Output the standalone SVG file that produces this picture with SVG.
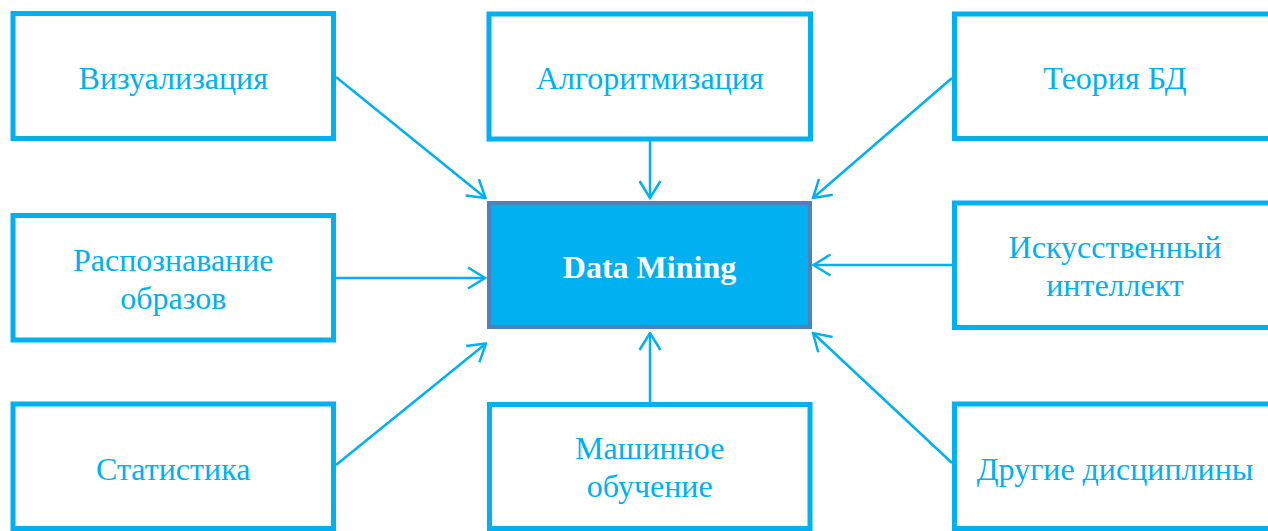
<svg xmlns="http://www.w3.org/2000/svg" width="1268" height="531" viewBox="0 0 1268 531">
  <style>
    .box { fill: #FFFFFF; stroke: #00B0F0; stroke-width: 5; }
    .core { fill: #00B0F0; stroke: #4F81BD; stroke-width: 4; }
    .lbl { font-family: "Liberation Serif", "Times New Roman", serif; font-size: 32px; fill: #00B0F0; text-anchor: middle; }
    .core-lbl { font-family: "Liberation Serif", "Times New Roman", serif; font-size: 32px; font-weight: bold; fill: #FFFFFF; text-anchor: middle; }
    .conn { fill: none; stroke: #00B0F0; stroke-width: 2.5; marker-end: url(#arrow); }
  </style>
  <defs>
    <marker id="arrow" markerUnits="userSpaceOnUse" viewBox="0 0 20 24" refX="18.5" refY="12" markerWidth="20" markerHeight="24" orient="auto">
      <path d="M1.5,1.5 L18.5,12 L1.5,22.5" fill="none" stroke="#00B0F0" stroke-width="2.5"/>
    </marker>
  </defs>
  <rect width="1268" height="531" fill="#FFFFFF"/>

  <g id="connectors">
    <line class="conn" x1="336" y1="77" x2="485.5" y2="198"/>
    <line class="conn" x1="650" y1="141" x2="650" y2="198"/>
    <line class="conn" x1="952" y1="78" x2="813" y2="198"/>
    <line class="conn" x1="336" y1="278" x2="485" y2="278"/>
    <line class="conn" x1="952" y1="265" x2="813.5" y2="265"/>
    <line class="conn" x1="336" y1="465" x2="486" y2="343.5"/>
    <line class="conn" x1="650" y1="402" x2="650" y2="333"/>
    <line class="conn" x1="952" y1="463" x2="813" y2="333"/>
  </g>

  <g id="node-core">
    <rect class="core" x="489" y="203" width="321" height="124"/>
    <text class="core-lbl" x="649.5" y="278">Data Mining</text>
  </g>

  <g id="node-vizualizatsiya">
    <rect class="box" x="13" y="13.5" width="320.5" height="125"/>
    <text class="lbl" x="173.25" y="89">Визуализация</text>
  </g>

  <g id="node-algoritmizatsiya">
    <rect class="box" x="489" y="14" width="321.5" height="125"/>
    <text class="lbl" x="649.75" y="89">Алгоритмизация</text>
  </g>

  <g id="node-teoriya-bd">
    <rect class="box" x="954.5" y="14" width="320.5" height="124.5"/>
    <text class="lbl" x="1115" y="89">Теория БД</text>
  </g>

  <g id="node-raspoznavanie">
    <rect class="box" x="13" y="215.5" width="320.5" height="124.5"/>
    <text class="lbl" x="173.25" y="270.5">Распознавание</text>
    <text class="lbl" x="173.25" y="308.5">образов</text>
  </g>

  <g id="node-ii">
    <rect class="box" x="954.5" y="203" width="320.5" height="124.5"/>
    <text class="lbl" x="1115" y="257.5">Искусственный</text>
    <text class="lbl" x="1115" y="295.5">интеллект</text>
  </g>

  <g id="node-statistika">
    <rect class="box" x="13" y="404" width="320.5" height="124.5"/>
    <text class="lbl" x="173.25" y="479.5">Статистика</text>
  </g>

  <g id="node-mashinnoe">
    <rect class="box" x="489.5" y="404.5" width="320.5" height="124"/>
    <text class="lbl" x="649.75" y="459">Машинное</text>
    <text class="lbl" x="649.75" y="497">обучение</text>
  </g>

  <g id="node-drugie">
    <rect class="box" x="954.5" y="404" width="320.5" height="124.5"/>
    <text class="lbl" x="1115" y="479.5">Другие дисциплины</text>
  </g>
</svg>
